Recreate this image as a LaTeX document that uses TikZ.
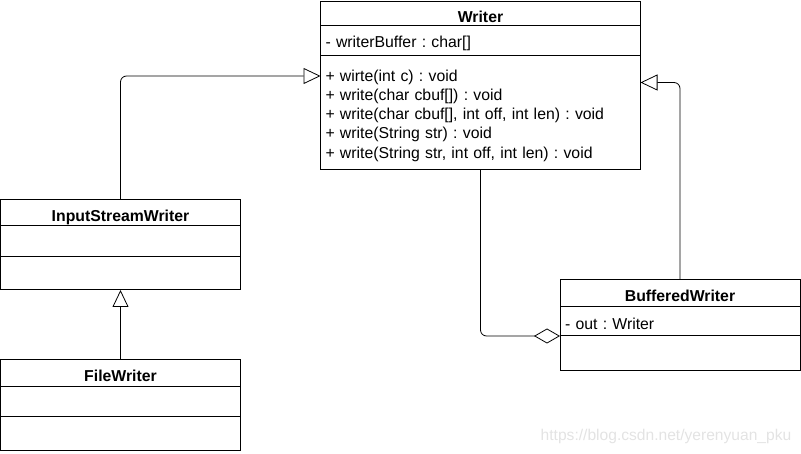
\documentclass[tikz,border=0pt]{standalone}
\usepackage{fontspec}
\setmainfont{Liberation Sans}
\usetikzlibrary{positioning,arrows.meta}
\frenchspacing

\begin{document}
\begin{tikzpicture}[x=1pt, y=-1pt,
  head/.style={draw, line width=1pt, inner sep=0pt, outer sep=0pt, text height=17pt, text depth=0pt, font=\fontsize{15.8}{18}\selectfont\bfseries},
  part/.style={draw, line width=1pt, inner xsep=5pt, inner ysep=0pt, outer sep=0pt, align=left, font=\fontsize{15.8}{19.25}\selectfont, execute at begin node={\rule{0pt}{16.5pt}}},
  inherit/.style={line width=0.8pt, rounded corners=6pt, -{Triangle[open, length=17pt, width=16pt]}},
  aggr/.style={line width=0.8pt, rounded corners=6pt, -{Diamond[open, length=26pt, width=15pt]}}]
\useasboundingbox (0,0) rectangle (801,454);
% Writer
\node[head, minimum width=320pt, minimum height=24pt] (writer) at (480.5,14) {Writer};
\node[part, text width=310pt, minimum height=30pt, below=0pt of writer] (wattr) {- writerBuffer : char[]};
\node[part, text width=310pt, minimum height=114pt, below=0pt of wattr] (wmeth) {+ wirte(int c) : void\\+ write(char cbuf[]) : void\\+ write(char cbuf[], int off, int len) : void\\+ write(String str) : void\\+ write(String str, int off, int len) : void};
% InputStreamWriter
\node[head, minimum width=240pt, minimum height=26pt] (isw) at (120.5,213) {InputStreamWriter};
\node[part, text width=230pt, minimum height=31pt, below=0pt of isw] (iswattr) {};
\node[part, text width=230pt, minimum height=33pt, below=0pt of iswattr] (iswmeth) {};
% FileWriter
\node[head, minimum width=240pt, minimum height=26.5pt] (fw) at (120.5,373.25) {FileWriter};
\node[part, text width=230pt, minimum height=30pt, below=0pt of fw] (fwattr) {};
\node[part, text width=230pt, minimum height=34pt, below=0pt of fwattr] (fwmeth) {};
% BufferedWriter
\node[head, minimum width=240pt, minimum height=27pt] (bw) at (680,293.5) {BufferedWriter};
\node[part, text width=230pt, minimum height=29pt, below=0pt of bw] (bwattr) {- out : Writer};
\node[part, text width=230pt, minimum height=35pt, below=0pt of bwattr] (bwmeth) {};
% connectors
\draw[inherit] (isw.north) |- ([yshift=37pt]wmeth.west);
\draw[inherit] (fw.north) -- (iswmeth.south);
\draw[inherit] (bw.north) |- ([yshift=30.5pt]wmeth.east);
\draw[aggr] (wmeth.south) |- (bwattr.south west);
%\draw (wmeth.south) -- (bwattr.south west);
\node[text=gray!22, font=\fontsize{15.6}{18}\selectfont] (mark) at (666,436) {https://blog.csdn.net/yerenyuan\_pku};
\end{tikzpicture}
\end{document}
